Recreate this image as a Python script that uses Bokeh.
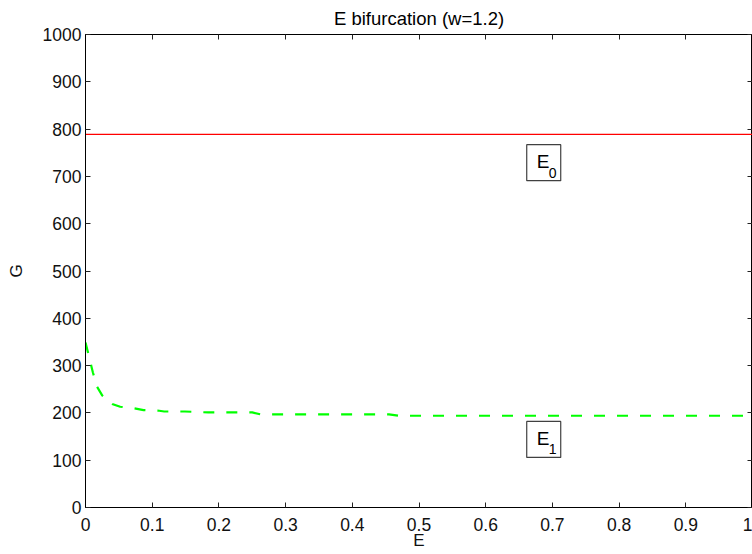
from bokeh.plotting import figure
from bokeh.models import LinearAxis, Range1d, FixedTicker
from bokeh.core.properties import value
from bokeh.embed import file_html
from bokeh.resources import INLINE

# ---- data ----
e0_E = [0.0, 1.0]
e0_G = [789, 789]

e1_E = [0.0, 0.011, 0.017, 0.025, 0.040, 0.052, 0.072, 0.087, 0.108, 0.118,
        0.149, 0.184, 0.217, 0.250, 0.262, 0.287, 0.370, 0.455, 0.470, 0.600,
        0.800, 1.0]
e1_G = [349, 286, 256, 237, 219, 213, 210, 206, 205, 203,
        203, 201, 201, 201, 197, 197, 197, 197, 194, 194,
        194, 194]

label_E = [0.687, 0.687]
label_G = [729, 144]
label_main = ["E", "E"]
label_sub = ["0", "1"]

x_ticks = [0, 0.1, 0.2, 0.3, 0.4, 0.5, 0.6, 0.7, 0.8, 0.9, 1]
x_tick_labels = ["0", "0.1", "0.2", "0.3", "0.4", "0.5", "0.6", "0.7", "0.8", "0.9", "1"]
y_ticks = [0, 100, 200, 300, 400, 500, 600, 700, 800, 900, 1000]

FONT = "Liberation Sans"

p = figure(width=752, height=554, output_backend="svg", toolbar_location=None,
           x_range=Range1d(0, 1), y_range=Range1d(0, 1000),
           min_border_left=85, min_border_right=0, min_border_top=34,
           min_border_bottom=47, x_axis_label="E", y_axis_label="G")
p.title.text = "E bifurcation (w=1.2)"
p.title.align = "center"
p.title.text_font = FONT
p.title.text_font_size = "18.5px"
p.title.text_font_style = "normal"
p.title.text_color = "black"
p.title.standoff = 11

p.xgrid.visible = False
p.ygrid.visible = False
p.outline_line_color = "black"
p.outline_line_width = 1

p.line(e0_E, e0_G, line_color="#ff0000", line_width=1.2)
p.line(e1_E, e1_G, line_color="#00ff00", line_width=2.2, line_dash="11 12")

p.rect(x=label_E, y=label_G, width=34, height=36, width_units="screen",
       height_units="screen", fill_color="white", line_color="#404040",
       line_width=1.2)
p.text(x=label_E, y=label_G, text=label_main, x_offset=-7, y_offset=-1,
       text_align="left", text_baseline="alphabetic", text_font=value(FONT),
       text_font_size="19px", text_color="black")
p.text(x=label_E, y=label_G, text=label_sub, x_offset=5, y_offset=10,
       text_align="left", text_baseline="alphabetic", text_font=value(FONT),
       text_font_size="14px", text_color="black")

def style_axis(ax, labels=True):
    ax.axis_line_color = "black"
    ax.major_tick_line_color = "#222222"
    ax.major_tick_in = 5
    ax.major_tick_out = 0
    ax.minor_tick_line_color = None
    ax.major_label_text_font = FONT
    ax.major_label_text_font_size = "17.5px"
    ax.major_label_text_color = "#111111"
    ax.axis_label_text_font = FONT
    ax.axis_label_text_font_size = "17px"
    ax.axis_label_text_font_style = "normal"
    ax.axis_label_text_color = "#111111"
    if not labels:
        ax.major_label_overrides = {t: "" for t in ax.ticker.ticks}
        ax.major_label_text_font_size = "1px"
        ax.major_label_standoff = 0

p.xaxis.ticker = FixedTicker(ticks=x_ticks)
p.xaxis.major_label_overrides = {t: s for t, s in zip(x_ticks, x_tick_labels)}
p.yaxis.ticker = FixedTicker(ticks=y_ticks)
style_axis(p.xaxis[0])
style_axis(p.yaxis[0])
p.xaxis.major_label_standoff = 10
p.xaxis.axis_label_standoff = -3
p.yaxis.major_label_standoff = 4
p.yaxis.axis_label_standoff = 14

top = LinearAxis(ticker=FixedTicker(ticks=x_ticks))
right = LinearAxis(ticker=FixedTicker(ticks=y_ticks))
style_axis(top, labels=False)
style_axis(right, labels=False)
p.add_layout(top, "above")
p.add_layout(right, "right")

open("out.html", "w").write(file_html(p, INLINE))
